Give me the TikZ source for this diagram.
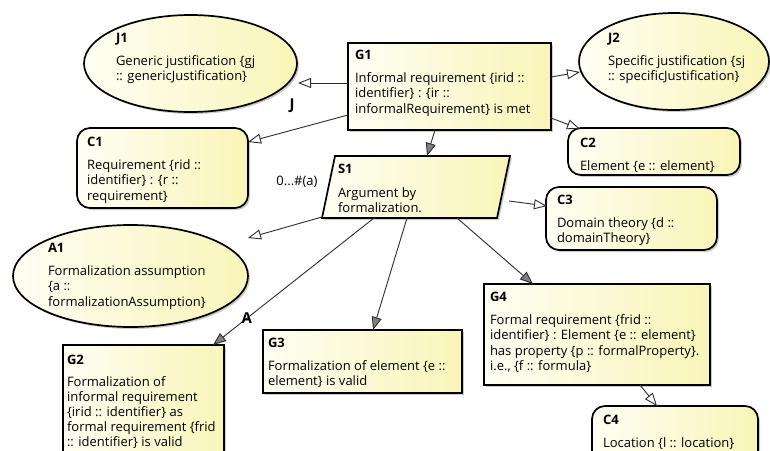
\documentclass[tikz,border=0pt]{standalone}
\usepackage{fontspec}
\setmainfont{Open Sans}
\usetikzlibrary{arrows.meta,shapes.geometric,shadows,calc}

\definecolor{paleL}{RGB}{254,254,244}
\definecolor{paleR}{RGB}{249,245,184}
\definecolor{wire}{RGB}{45,45,45}

\tikzset{
  gsnshape/.style={draw=black, line width=1.7pt, left color=paleL, right color=paleR,
    inner sep=0pt, outer sep=0pt,
    drop shadow={shadow xshift=2pt, shadow yshift=-2pt, fill=black, opacity=0.2}},
  goalbox/.style={gsnshape, rectangle},
  ctxbox/.style={gsnshape, rectangle, rounded corners=13pt},
  justell/.style={gsnshape, ellipse},
  frame/.style={rectangle, inner sep=0pt, outer sep=0pt},
  txt/.style={anchor=north west, inner sep=0pt, outer sep=0pt, align=left,
    font=\fontsize{13}{15.5}\selectfont},
  lbl/.style={inner sep=0pt, font=\fontsize{15}{16}\selectfont\bfseries},
  mult/.style={inner sep=0pt, font=\fontsize{13}{15}\selectfont},
  link/.style={draw=wire, line width=0.9pt},
  incontext/.style={link, -{Triangle[length=13pt,width=10pt,fill=white]}},
  supported/.style={link, -{Triangle[length=13pt,width=10pt,fill=black!50]}},
}

\begin{document}
\begin{tikzpicture}[x=1pt, y=-1pt]
\useasboundingbox (0,0) rectangle (770,450);
\fill[white] (0,0) rectangle (770,450);
\clip (0,0) rectangle (770,450);

% ---- shapes ----
\node[justell, minimum width=213pt, minimum height=97pt] (J1) at (190.5,63.5) {};
\node[justell, minimum width=190pt, minimum height=97pt] (J2) at (674,61.5) {};
\node[goalbox, minimum width=203pt, minimum height=87pt] (G1) at (449.5,86.5) {};
\node[ctxbox, minimum width=171pt, minimum height=80pt] (C1) at (162.5,168) {};
\node[ctxbox, minimum width=172pt, minimum height=47pt] (C2) at (654,151.5) {};
\node[frame, minimum width=188pt, minimum height=62pt] (S1) at (416,187) {};
\path[gsnshape] (S1.south west) -- ($(S1.north west)+(13,0)$) -- (S1.north east)
  -- ($(S1.south east)+(-13,0)$) -- cycle;
\node[ctxbox, minimum width=171pt, minimum height=63pt] (C3) at (631.5,218.5) {};
\node[justell, minimum width=235pt, minimum height=102pt] (A1) at (130.5,276) {};
\node[goalbox, minimum width=226pt, minimum height=101pt] (G4) at (597,334.5) {};
\node[goalbox, minimum width=199pt, minimum height=63pt] (G3) at (362.5,361.5) {};
\node[goalbox, minimum width=161pt, minimum height=130pt] (G2) at (143.5,410) {};
\node[ctxbox, minimum width=166pt, minimum height=70pt] (C4) at (675,441) {};

% ---- texts ----
\node[txt] (J1t) at (116,33) {\textbf{J1}\\[7.5pt]Generic justification \{gj\\:: genericJustification\}};
\node[txt] (J2t) at (608,33) {\textbf{J2}\\[7.5pt]Specific justification \{sj\\:: specificJustification\}};
\node[txt] (G1t) at (355,50) {\textbf{G1}\\[7.5pt]Informal requirement \{irid ::\\identifier\} : \{ir ::\\informalRequirement\} is met};
\node[txt] (C1t) at (87,137) {\textbf{C1}\\[7.5pt]Requirement \{rid ::\\identifier\} : \{r ::\\requirement\}};
\node[txt] (C2t) at (580,138) {\textbf{C2}\\[7.5pt]Element \{e :: element\}};
\node[txt] (S1t) at (338,164) {\textbf{S1}\\[8.5pt]Argument by\\formalization.};
\node[txt] (C3t) at (557,195) {\textbf{C3}\\[7.5pt]Domain theory \{d ::\\domainTheory\}};
\node[txt] (A1t) at (48,243) {\textbf{A1}\\[7.5pt]Formalization assumption\\\{a ::\\formalizationAssumption\}};
\node[txt] (G4t) at (490,292) {\textbf{G4}\\[7.5pt]Formal requirement \{frid ::\\identifier\} : Element \{e :: element\}\\has property \{p :: formalProperty\}.\\i.e., \{f :: formula\}};
\node[txt] (G3t) at (268,338) {\textbf{G3}\\[7.5pt]Formalization of element \{e ::\\element\} is valid};
\node[txt, font=\fontsize{13}{15}\selectfont] (G2t) at (67,355) {\textbf{G2}\\[7pt]Formalization of\\informal requirement\\\{irid :: identifier\} as\\formal requirement \{frid\\:: identifier\} is valid};
\node[txt] (C4t) at (603,415) {\textbf{C4}\\[7.5pt]Location \{l :: location\}};

% ---- connectors ----
\draw[incontext] ($(G1.west)+(0,-3.5)$) -- ($(J1.east)+(1,19.5)$);
\draw[incontext] ($(G1.south west)+(0,-15)$) -- ($(C1.north east)+(0,14)$);
\draw[incontext] ($(G1.east)+(0,-9.5)$) -- ($(J2.west)+(1,10.5)$);
\draw[incontext] ($(G1.east)+(0,31.5)$) -- ($(C2.north west)+(12,1)$);
\draw[supported] ($(G1.south)+(-14.5,0)$) -- ($(S1.north)+(11,0)$);
\draw[incontext] ($(S1.east)+(-1,14)$) -- ($(C3.west)+(1,-12.5)$);
\draw[incontext] ($(S1.south west)+(0,-1)$) -- ($(A1.east)+(0,-38)$);
\draw[supported] ($(S1.south)+(-42,0)$) -- ($(G2.north east)+(-11,0)$)
  node[lbl, pos=0.79] (Albl) {A};
\draw[supported] ($(S1.south)+(-9,0)$) -- ($(G3.north)+(10.5,0)$);
\draw[supported] ($(S1.south)+(41,0)$) -- ($(G4.north west)+(49,0)$);
\draw[incontext] ($(G4.south)+(43,0)$) -- ($(C4.north)+(-18,0)$);

% ---- connector labels ----
\node[lbl] (Jlbl) at (292,106) {J};
\node[mult] (mlbl) at (297,182) {0...\#(a)};
\end{tikzpicture}
\end{document}
